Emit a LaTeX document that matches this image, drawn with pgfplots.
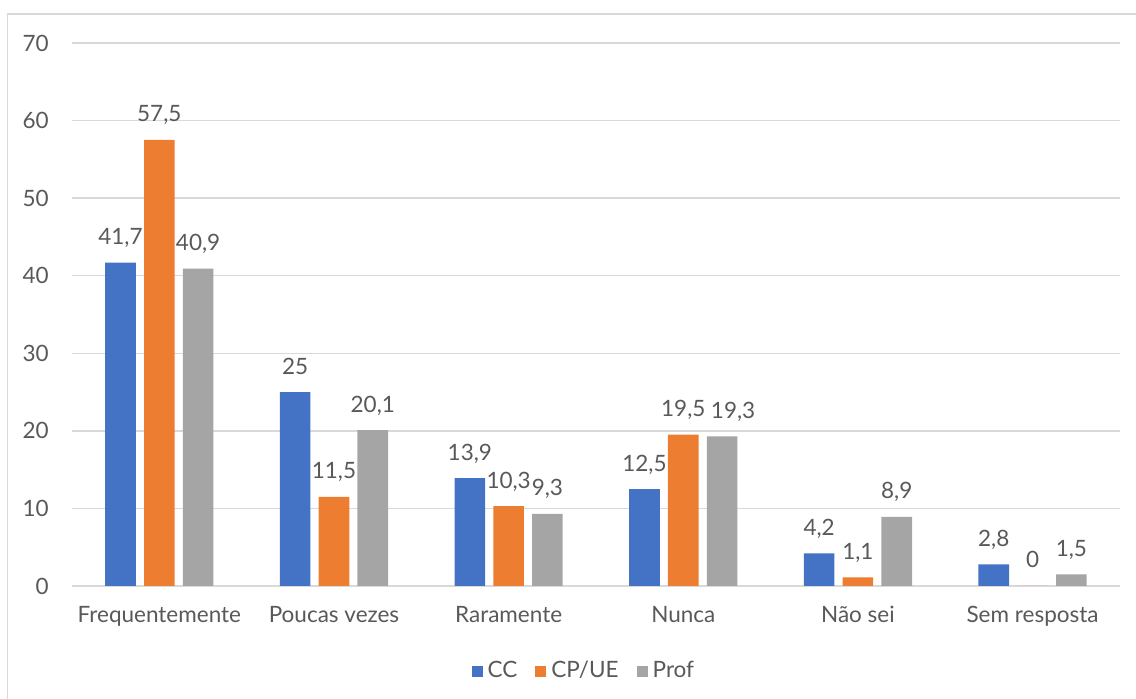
\documentclass[border=0pt]{standalone}
\usepackage{pgfplots}
\pgfplotsset{compat=1.18}
\usepackage{fontspec}
\setmainfont{Lato}

\definecolor{cc}{HTML}{4472C4}
\definecolor{cpue}{HTML}{ED7D31}
\definecolor{prof}{HTML}{A5A5A5}
\definecolor{txt}{HTML}{595959}
\definecolor{grd}{HTML}{D9D9D9}

\begin{document}
\fontsize{22.5pt}{26pt}\selectfont\color{txt}
\begin{tikzpicture}[x=1pt,y=1pt]
  \useasboundingbox (0,0) rectangle (1136,699);
  % chart frame
  \draw[grd, line width=1.2pt] (7.5,-5) -- (7.5,685) -- (1140,685);
  \begin{axis}[
      at={(72pt,113pt)}, anchor=south west,
      scale only axis, width=1048pt, height=543pt,
      ybar=8.2pt, bar width=30.6pt,
      xmin=-0.5, xmax=5.5, ymin=0, ymax=70,
      enlargelimits=false,
      xtick={0,...,5},
      xticklabels={Frequentemente, Poucas vezes, Raramente, Nunca, Não sei, Sem resposta},
      ytick={0,10,...,70},
      major tick length=0pt,
      axis x line*=bottom, axis y line*=left,
      x axis line style={draw=grd, line width=1.3pt, -},
      y axis line style={draw=none},
      ymajorgrids,
      major grid style={draw=grd, line width=1.3pt},
      yticklabel style={anchor=east, inner sep=0pt, xshift=-23pt},
      xticklabel style={anchor=base, yshift=-37pt},
      /pgf/number format/assume math mode=true,
      nodes near coords={\pgfmathprintnumber[use comma, fixed, precision=1, assume math mode=true]{\pgfplotspointmeta}},
      nodes near coords style={anchor=base, yshift=18pt, inner sep=1pt, text=txt},
      legend image code/.code={\fill[#1] (0pt,-5.5pt) rectangle (11pt,5.5pt);},
      legend style={at={(0.4885,-0.157)}, anchor=center, draw=none, fill=none,
        legend columns=-1, text=txt,
        /tikz/every odd column/.append style={column sep=3pt},
        /tikz/every even column/.append style={column sep=16pt}},
    ]
    \addplot[fill=cc, draw=none] coordinates
      {(0,41.7) (1,25) (2,13.9) (3,12.5) (4,4.2) (5,2.8)};
    \addplot[fill=cpue, draw=none] coordinates
      {(0,57.5) (1,11.5) (2,10.3) (3,19.5) (4,1.1) (5,0)};
    % label at "Nunca" nudged right, as in the original, so it clears 19,5
    \addplot[fill=prof, draw=none,
      visualization depends on={rawx \as \rx},
      nodes near coords style={xshift={ifthenelse(\rx==3,11,0)}}] coordinates
      {(0,40.9) (1,20.1) (2,9.3) (3,19.3) (4,8.9) (5,1.5)};
    \legend{CC, CP/UE, Prof}
  \end{axis}
\end{tikzpicture}
\end{document}
